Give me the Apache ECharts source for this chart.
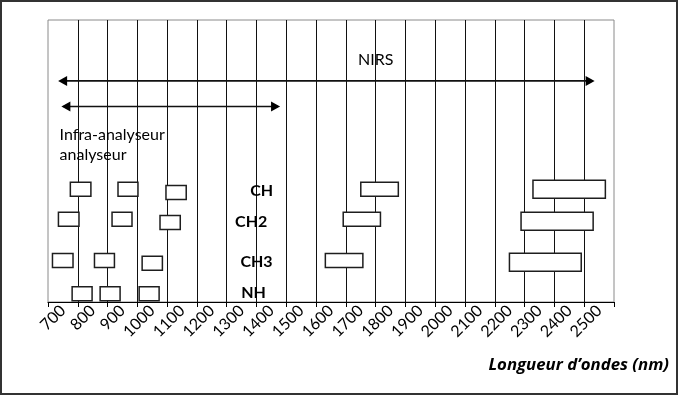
<!DOCTYPE html>
<html><head><meta charset="utf-8">
<script src="https://cdn.jsdelivr.net/npm/echarts@6/dist/echarts.min.js"></script>
<style>html,body{margin:0;padding:0;background:#fff}#c{width:679px;height:396px}</style>
</head><body><div id="c"></div>
<script>
// Tick labels (wavelength, nm)
const wavelengthLabels = ['700','800','900','1000','1100','1200','1300','1400','1500','1600',
  '1700','1800','1900','2000','2100','2200','2300','2400','2500'];

// Absorption bands: [start nm, end nm, vertical level (0-100)]
const chBands  = [[725,794,40.0],[885,952,40.0],[1046,1114,38.8],[1700,1826,40.0],[2278,2521,40.0]];
const ch2Bands = [[685,754,29.3],[865,932,29.3],[1026,1094,28.2],[1641,1766,29.3],[2238,2480,28.6]];
const ch3Bands = [[665,734,14.7],[806,873,14.7],[966,1034,13.7],[1581,1707,14.7],[2199,2440,14.1]];
const nhBands  = [[731,798,2.9],[825,892,2.9],[956,1023,2.9]];

// Instrument ranges (double arrows)
const rangeNames  = ['NIRS','Infra-analyseur'];
const rangeStart  = [684, 695];
const rangeEnd    = [2485, 1429];
const rangeLevel  = [78.4, 69.3];

// Text annotations
const rowLabels      = ['CH','CH2','CH3','NH'];
const rowLabelX      = [1367,1332,1350,1340];
const rowLabelLevel  = [39.4,28.5,14.3,3.1];
const noteTexts      = ['NIRS','Infra-analyseur\nanalyseur'];
const noteX          = [1750, 689];
const noteLevel      = [85.8, 55.8];

const axisTitle = 'Longueur d\u2019ondes (nm)';

const FONT = 'Lato, "Open Sans", sans-serif';
const chart = echarts.init(document.getElementById('c'), null, {renderer:'canvas'});

function boxSeries(name, bands) {
  return {
    type:'custom', name, xAxisIndex:1, yAxisIndex:0, data:bands, z:5,
    renderItem(params, api) {
      const s = api.coord([api.value(0), api.value(2)]);
      const e = api.coord([api.value(1), api.value(2)]);
      const h = (api.value(1) - api.value(0)) > 200 ? 18 : 14;
      return {type:'rect', shape:{x:s[0], y:s[1]-h/2, width:e[0]-s[0], height:h},
        style:{fill:'#fff', stroke:'#1e1e1e', lineWidth:1.5}};
    }
  };
}

const arrowData = rangeNames.map((n,i)=>({name:n, value:[rangeStart[i], rangeEnd[i], rangeLevel[i]]}));
const rowLabelData = rowLabels.map((t,i)=>({name:t, value:[rowLabelX[i], rowLabelLevel[i]]}));
const noteData = noteTexts.map((t,i)=>({name:t, value:[noteX[i], noteLevel[i]]}));

chart.setOption({
  animation:false,
  title:{text:axisTitle, right:10, top:357, padding:0,
    textStyle:{fontFamily:'"Open Sans", Lato, sans-serif', fontSize:16.8, fontWeight:'bold', fontStyle:'italic', color:'#000'}},
  grid:{left:48, right:65, top:20, bottom:94, show:true, borderColor:'#8a8a8a', borderWidth:1, backgroundColor:'transparent'},
  xAxis:[{
    type:'category', data:wavelengthLabels, boundaryGap:true, position:'bottom',
    axisLine:{show:true, lineStyle:{color:'#000', width:1.2}},
    axisTick:{show:true, interval:0, length:5, lineStyle:{color:'#000'}},
    splitLine:{show:true, interval:0, showMinLine:false, showMaxLine:false, lineStyle:{color:'#111', width:1}},
    axisLabel:{interval:0, rotate:45, margin:6, color:'#000', fontFamily:FONT, fontSize:16}
  },{
    type:'value', min:650, max:2550, show:false, position:'bottom'
  }],
  yAxis:{type:'value', min:0, max:100, show:false},
  graphic:[{type:'rect', shape:{x:1, y:1, width:676, height:393}, style:{fill:'none', stroke:'#333', lineWidth:2}, z:100}],
  series:[
    boxSeries('CH', chBands),
    boxSeries('CH2', ch2Bands),
    boxSeries('CH3', ch3Bands),
    boxSeries('NH', nhBands),
    {
      type:'custom', name:'ranges', xAxisIndex:1, yAxisIndex:0, data:arrowData, z:6,
      renderItem(params, api) {
        const s = api.coord([api.value(0), api.value(2)]);
        const e = api.coord([api.value(1), api.value(2)]);
        const L = 9, W = 5;
        return {type:'group', children:[
          {type:'line', shape:{x1:s[0]+2, y1:s[1], x2:e[0]-2, y2:e[1]}, style:{stroke:'#111', lineWidth:1.6}},
          {type:'polygon', shape:{points:[[s[0],s[1]],[s[0]+L,s[1]-W],[s[0]+L,s[1]+W]]}, style:{fill:'#000'}},
          {type:'polygon', shape:{points:[[e[0],e[1]],[e[0]-L,e[1]-W],[e[0]-L,e[1]+W]]}, style:{fill:'#000'}}
        ]};
      }
    },
    {
      type:'custom', name:'rowLabels', xAxisIndex:1, yAxisIndex:0, data:rowLabelData, z:7,
      renderItem(params, api) {
        const p = api.coord([api.value(0), api.value(1)]);
        return {type:'text', x:p[0], y:p[1], style:{text:rowLabelData[params.dataIndex].name,
          align:'center', verticalAlign:'middle', fill:'#000', font:'bold 16px ' + FONT}};
      }
    },
    {
      type:'custom', name:'notes', xAxisIndex:1, yAxisIndex:0, data:noteData, z:7,
      renderItem(params, api) {
        const p = api.coord([api.value(0), api.value(1)]);
        const first = params.dataIndex === 0;
        return {type:'text', x:p[0], y:p[1], style:{text:noteData[params.dataIndex].name,
          align: first ? 'center' : 'left', verticalAlign:'middle', lineHeight:19.5,
          fill:'#000', font:'16px ' + FONT}};
      }
    }
  ]
});
</script></body></html>
